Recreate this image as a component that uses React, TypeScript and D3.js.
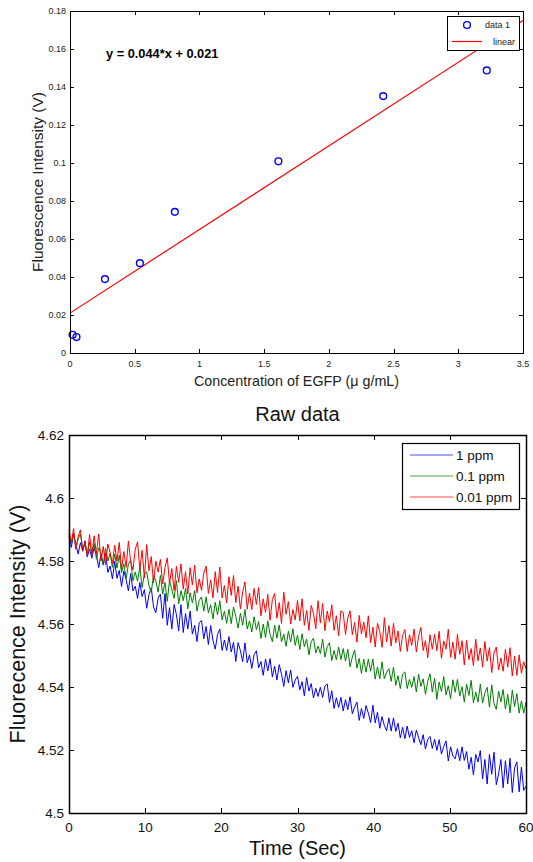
import React, { useEffect, useRef } from 'react';
import * as d3 from 'd3';

const FONT = '"Liberation Sans", Arial, Helvetica, sans-serif';

// ---- top panel: calibration curve ----
const concentration = [0.02, 0.05, 0.27, 0.54, 0.81, 1.61, 2.42, 3.22];
const intensity = [0.0096, 0.0084, 0.0389, 0.0473, 0.0743, 0.1009, 0.1352, 0.1487];
const fitSlope = 0.044;
const fitIntercept = 0.021;
const fitRange = [0, 3.5];
const calXTicks = [0, 0.5, 1, 1.5, 2, 2.5, 3, 3.5];
const calXLabels = ['0', '0.5', '1', '1.5', '2', '2.5', '3', '3.5'];
const calYTicks = [0, 0.02, 0.04, 0.06, 0.08, 0.1, 0.12, 0.14, 0.16, 0.18];
const calYLabels = ['0', '0.02', '0.04', '0.06', '0.08', '0.1', '0.12', '0.14', '0.16', '0.18'];

// ---- bottom panel: raw traces, one sample every 0.3 s ----
const sampleStep = 0.3;
const raw1ppm = [
  4.5879, 4.5843, 4.5885, 4.5854, 4.5822, 4.5858, 4.5831, 4.5864, 4.5813, 4.5838,
  4.5809, 4.5843, 4.5820, 4.5779, 4.5822, 4.5787, 4.5824, 4.5764, 4.5784, 4.5743,
  4.5799, 4.5745, 4.5770, 4.5719, 4.5768, 4.5741, 4.5705, 4.5760, 4.5705, 4.5720,
  4.5681, 4.5732, 4.5687, 4.5709, 4.5650, 4.5693, 4.5715, 4.5654, 4.5636, 4.5682,
  4.5695, 4.5618, 4.5697, 4.5596, 4.5652, 4.5584, 4.5662, 4.5630, 4.5578, 4.5661,
  4.5573, 4.5633, 4.5584, 4.5641, 4.5568, 4.5596, 4.5544, 4.5604, 4.5611, 4.5553,
  4.5592, 4.5535, 4.5595, 4.5548, 4.5520, 4.5567, 4.5584, 4.5516, 4.5549, 4.5516,
  4.5560, 4.5511, 4.5542, 4.5481, 4.5541, 4.5516, 4.5480, 4.5540, 4.5477, 4.5502,
  4.5459, 4.5503, 4.5515, 4.5461, 4.5481, 4.5437, 4.5489, 4.5451, 4.5490, 4.5432,
  4.5466, 4.5422, 4.5471, 4.5441, 4.5402, 4.5452, 4.5413, 4.5454, 4.5399, 4.5422,
  4.5434, 4.5391, 4.5417, 4.5372, 4.5430, 4.5387, 4.5411, 4.5365, 4.5396, 4.5370,
  4.5399, 4.5367, 4.5403, 4.5410, 4.5351, 4.5388, 4.5332, 4.5366, 4.5335, 4.5367,
  4.5324, 4.5360, 4.5328, 4.5369, 4.5315, 4.5336, 4.5352, 4.5294, 4.5332, 4.5300,
  4.5341, 4.5317, 4.5287, 4.5342, 4.5286, 4.5320, 4.5269, 4.5306, 4.5278, 4.5261,
  4.5302, 4.5260, 4.5302, 4.5259, 4.5285, 4.5238, 4.5272, 4.5236, 4.5276, 4.5240,
  4.5261, 4.5223, 4.5263, 4.5239, 4.5217, 4.5249, 4.5203, 4.5234, 4.5243, 4.5205,
  4.5234, 4.5199, 4.5233, 4.5187, 4.5211, 4.5229, 4.5165, 4.5210, 4.5181, 4.5172,
  4.5204, 4.5166, 4.5210, 4.5167, 4.5195, 4.5139, 4.5177, 4.5121, 4.5186, 4.5162,
  4.5198, 4.5108, 4.5170, 4.5092, 4.5186, 4.5123, 4.5193, 4.5090, 4.5124, 4.5170,
  4.5080, 4.5166, 4.5092, 4.5174, 4.5065, 4.5143, 4.5162, 4.5067, 4.5146, 4.5072,
  4.5085,
];
const raw01ppm = [
  4.5886, 4.5857, 4.5888, 4.5841, 4.5870, 4.5886, 4.5835, 4.5854, 4.5821, 4.5860,
  4.5825, 4.5856, 4.5806, 4.5842, 4.5825, 4.5789, 4.5840, 4.5800, 4.5825, 4.5780,
  4.5822, 4.5778, 4.5818, 4.5763, 4.5791, 4.5744, 4.5791, 4.5803, 4.5737, 4.5765,
  4.5736, 4.5781, 4.5716, 4.5758, 4.5766, 4.5722, 4.5700, 4.5754, 4.5737, 4.5701,
  4.5754, 4.5695, 4.5732, 4.5672, 4.5738, 4.5709, 4.5681, 4.5738, 4.5664, 4.5706,
  4.5674, 4.5713, 4.5648, 4.5699, 4.5667, 4.5706, 4.5641, 4.5675, 4.5686, 4.5641,
  4.5686, 4.5635, 4.5661, 4.5616, 4.5669, 4.5629, 4.5674, 4.5613, 4.5640, 4.5602,
  4.5647, 4.5601, 4.5654, 4.5624, 4.5587, 4.5634, 4.5596, 4.5646, 4.5584, 4.5610,
  4.5575, 4.5623, 4.5582, 4.5608, 4.5554, 4.5600, 4.5557, 4.5610, 4.5567, 4.5544,
  4.5596, 4.5555, 4.5597, 4.5544, 4.5568, 4.5529, 4.5577, 4.5543, 4.5585, 4.5532,
  4.5564, 4.5519, 4.5569, 4.5528, 4.5552, 4.5502, 4.5544, 4.5555, 4.5508, 4.5530,
  4.5506, 4.5552, 4.5495, 4.5528, 4.5541, 4.5484, 4.5516, 4.5486, 4.5527, 4.5487,
  4.5522, 4.5482, 4.5520, 4.5464, 4.5495, 4.5517, 4.5460, 4.5491, 4.5443, 4.5488,
  4.5447, 4.5489, 4.5450, 4.5489, 4.5425, 4.5464, 4.5426, 4.5480, 4.5426, 4.5447,
  4.5458, 4.5418, 4.5463, 4.5405, 4.5436, 4.5395, 4.5441, 4.5448, 4.5395, 4.5424,
  4.5399, 4.5433, 4.5384, 4.5441, 4.5402, 4.5426, 4.5377, 4.5418, 4.5442, 4.5384,
  4.5428, 4.5361, 4.5416, 4.5386, 4.5433, 4.5375, 4.5404, 4.5363, 4.5423, 4.5383,
  4.5424, 4.5371, 4.5401, 4.5352, 4.5409, 4.5373, 4.5421, 4.5350, 4.5384, 4.5352,
  4.5409, 4.5349, 4.5381, 4.5399, 4.5336, 4.5407, 4.5347, 4.5329, 4.5387, 4.5353,
  4.5392, 4.5330, 4.5377, 4.5318, 4.5390, 4.5338, 4.5379, 4.5317, 4.5356, 4.5317,
  4.5352,
];
const raw001ppm = [
  4.5900, 4.5857, 4.5903, 4.5837, 4.5878, 4.5899, 4.5833, 4.5861, 4.5815, 4.5884,
  4.5818, 4.5880, 4.5824, 4.5886, 4.5800, 4.5846, 4.5788, 4.5854, 4.5826, 4.5791,
  4.5850, 4.5800, 4.5859, 4.5773, 4.5830, 4.5780, 4.5863, 4.5797, 4.5772, 4.5837,
  4.5861, 4.5773, 4.5834, 4.5746, 4.5852, 4.5769, 4.5814, 4.5731, 4.5800, 4.5765,
  4.5805, 4.5727, 4.5778, 4.5810, 4.5730, 4.5776, 4.5706, 4.5783, 4.5732, 4.5791,
  4.5711, 4.5766, 4.5695, 4.5779, 4.5724, 4.5787, 4.5699, 4.5743, 4.5707, 4.5762,
  4.5784, 4.5697, 4.5740, 4.5683, 4.5766, 4.5700, 4.5781, 4.5683, 4.5722, 4.5667,
  4.5750, 4.5691, 4.5754, 4.5668, 4.5720, 4.5648, 4.5702, 4.5734, 4.5647, 4.5698,
  4.5646, 4.5713, 4.5662, 4.5716, 4.5626, 4.5680, 4.5637, 4.5694, 4.5612, 4.5678,
  4.5697, 4.5618, 4.5668, 4.5602, 4.5701, 4.5631, 4.5671, 4.5600, 4.5646, 4.5613,
  4.5675, 4.5610, 4.5680, 4.5596, 4.5643, 4.5580, 4.5659, 4.5634, 4.5585, 4.5674,
  4.5603, 4.5665, 4.5579, 4.5641, 4.5607, 4.5661, 4.5580, 4.5626, 4.5563, 4.5642,
  4.5637, 4.5567, 4.5619, 4.5642, 4.5566, 4.5605, 4.5542, 4.5627, 4.5569, 4.5606,
  4.5556, 4.5626, 4.5541, 4.5590, 4.5527, 4.5602, 4.5576, 4.5526, 4.5620, 4.5543,
  4.5595, 4.5530, 4.5602, 4.5540, 4.5578, 4.5513, 4.5564, 4.5582, 4.5513, 4.5566,
  4.5532, 4.5584, 4.5511, 4.5561, 4.5589, 4.5516, 4.5547, 4.5493, 4.5566, 4.5520,
  4.5567, 4.5515, 4.5577, 4.5491, 4.5546, 4.5520, 4.5583, 4.5494, 4.5543, 4.5488,
  4.5567, 4.5504, 4.5547, 4.5470, 4.5548, 4.5487, 4.5522, 4.5467, 4.5552, 4.5483,
  4.5524, 4.5463, 4.5544, 4.5482, 4.5525, 4.5446, 4.5508, 4.5527, 4.5454, 4.5492,
  4.5450, 4.5520, 4.5463, 4.5525, 4.5435, 4.5498, 4.5437, 4.5502, 4.5444, 4.5480,
  4.5458,
];
const seriesNames = ['1 ppm', '0.1 ppm', '0.01 ppm'];
const seriesColors = ['#0000ff', '#008000', '#ff0000'];
const seriesValues = [raw1ppm, raw01ppm, raw001ppm];
const rawXTicks = [0, 10, 20, 30, 40, 50, 60];
const rawYTicks = [4.5, 4.52, 4.54, 4.56, 4.58, 4.6, 4.62];
const rawYLabels = ['4.5', '4.52', '4.54', '4.56', '4.58', '4.6', '4.62'];

const App = () => {
  const svgRef = useRef<SVGSVGElement>(null);

  useEffect(() => {
    const svg = d3.select(svgRef.current);
    svg.selectAll('*').remove();
    svg.style('font-family', FONT);

    // ================= top chart =================
    const L = 70, R = 523, T = 11, B = 353;
    const x = d3.scaleLinear().domain([0, 3.5]).range([L, R]);
    const y = d3.scaleLinear().domain([0, 0.18]).range([B, T]);
    const top = svg.append('g');

    top.append('rect')
      .attr('x', L).attr('y', T).attr('width', R - L).attr('height', B - T)
      .attr('fill', '#fff');

    top.append('defs').append('clipPath').attr('id', 'calclip')
      .append('rect').attr('x', L).attr('y', T).attr('width', R - L).attr('height', B - T);

    // fitted line
    top.append('line')
      .attr('clip-path', 'url(#calclip)')
      .attr('x1', x(fitRange[0])).attr('y1', y(fitSlope * fitRange[0] + fitIntercept))
      .attr('x2', x(fitRange[1])).attr('y2', y(fitSlope * fitRange[1] + fitIntercept))
      .attr('stroke', '#ff0000').attr('stroke-width', 1.2);

    // data points
    top.selectAll('circle.pt')
      .data(concentration)
      .enter()
      .append('circle')
      .attr('class', 'pt')
      .attr('cx', d => x(d))
      .attr('cy', (d, i) => y(intensity[i]))
      .attr('r', 3.4)
      .attr('fill', 'none')
      .attr('stroke', '#0000ff')
      .attr('stroke-width', 1.4);

    // frame + ticks
    top.append('rect')
      .attr('x', L + 0.5).attr('y', T + 0.5).attr('width', R - L).attr('height', B - T)
      .attr('fill', 'none').attr('stroke', '#000').attr('stroke-width', 1);

    calXTicks.forEach((t, i) => {
      const px = Math.round(x(t)) + 0.5;
      top.append('line').attr('x1', px).attr('x2', px).attr('y1', B).attr('y2', B - 4).attr('stroke', '#000');
      top.append('line').attr('x1', px).attr('x2', px).attr('y1', T).attr('y2', T + 4).attr('stroke', '#000');
      top.append('text').attr('x', x(t)).attr('y', B + 14)
        .attr('text-anchor', 'middle').attr('font-size', 9).attr('fill', '#222')
        .text(calXLabels[i]);
    });
    calYTicks.forEach((t, i) => {
      const py = Math.round(y(t)) + 0.5;
      top.append('line').attr('x1', L).attr('x2', L + 4).attr('y1', py).attr('y2', py).attr('stroke', '#000');
      top.append('line').attr('x1', R).attr('x2', R - 4).attr('y1', py).attr('y2', py).attr('stroke', '#000');
      top.append('text').attr('x', L - 4).attr('y', y(t) + 3.2)
        .attr('text-anchor', 'end').attr('font-size', 9).attr('fill', '#222')
        .text(calYLabels[i]);
    });

    top.append('text')
      .attr('x', 106).attr('y', 58)
      .attr('font-size', 12.8).attr('font-weight', 'bold')
      .text(`y = ${fitSlope}*x + ${fitIntercept}`);

    top.append('text')
      .attr('x', (L + R) / 2).attr('y', 386)
      .attr('text-anchor', 'middle').attr('font-size', 14.3).attr('fill', '#222')
      .text('Concentration of EGFP (\u03bc g/mL)');

    top.append('text')
      .attr('transform', `translate(43,${(T + B) / 2}) rotate(-90)`)
      .attr('text-anchor', 'middle').attr('font-size', 15.5).attr('fill', '#222')
      .text('Fluorescence Intensity (V)');

    // legend
    const lg = top.append('g');
    lg.append('rect').attr('x', 447.5).attr('y', 16.5).attr('width', 72).attr('height', 34)
      .attr('fill', '#fff').attr('stroke', '#000');
    lg.append('circle').attr('cx', 467).attr('cy', 25).attr('r', 3.4)
      .attr('fill', 'none').attr('stroke', '#0000ff').attr('stroke-width', 1.4);
    lg.append('text').attr('x', 485).attr('y', 28.3).attr('font-size', 9).attr('fill', '#222').text('data 1');
    lg.append('line').attr('x1', 452).attr('x2', 482).attr('y1', 41.5).attr('y2', 41.5)
      .attr('stroke', '#ff0000').attr('stroke-width', 1.2);
    lg.append('text').attr('x', 515).attr('y', 44.8).attr('text-anchor', 'end')
      .attr('font-size', 9).attr('fill', '#222').text('linear');

    // ================= bottom chart =================
    const L2 = 69, R2 = 526, T2 = 435, B2 = 813;
    const x2 = d3.scaleLinear().domain([0, 60]).range([L2, R2]);
    const y2 = d3.scaleLinear().domain([4.5, 4.62]).range([B2, T2]);
    const bot = svg.append('g');

    bot.append('text')
      .attr('x', (L2 + R2) / 2).attr('y', 421)
      .attr('text-anchor', 'middle').attr('font-size', 20).attr('fill', '#111')
      .text('Raw data');

    const line = d3.line<number>()
      .x((d, i) => x2(i * sampleStep))
      .y(d => y2(d));

    seriesValues.forEach((vals, k) => {
      bot.append('path')
        .datum(vals)
        .attr('d', line)
        .attr('fill', 'none')
        .attr('stroke', seriesColors[k])
        .attr('stroke-width', 1)
        .attr('stroke-linejoin', 'round');
    });

    bot.append('rect')
      .attr('x', L2 + 0.5).attr('y', T2 + 0.5).attr('width', R2 - L2).attr('height', B2 - T2)
      .attr('fill', 'none').attr('stroke', '#000').attr('stroke-width', 1.5);

    rawXTicks.forEach(t => {
      const px = Math.round(x2(t)) + 0.5;
      bot.append('line').attr('x1', px).attr('x2', px).attr('y1', B2).attr('y2', B2 - 5).attr('stroke', '#000');
      bot.append('line').attr('x1', px).attr('x2', px).attr('y1', T2).attr('y2', T2 + 5).attr('stroke', '#000');
      bot.append('text').attr('x', x2(t)).attr('y', 832)
        .attr('text-anchor', 'middle').attr('font-size', 13.5).attr('fill', '#111')
        .text(String(t));
    });
    rawYTicks.forEach((t, i) => {
      const py = Math.round(y2(t)) + 0.5;
      bot.append('line').attr('x1', L2).attr('x2', L2 + 5).attr('y1', py).attr('y2', py).attr('stroke', '#000');
      bot.append('line').attr('x1', R2).attr('x2', R2 - 5).attr('y1', py).attr('y2', py).attr('stroke', '#000');
      bot.append('text').attr('x', L2 - 5).attr('y', y2(t) + 4.8)
        .attr('text-anchor', 'end').attr('font-size', 13.5).attr('fill', '#111')
        .text(rawYLabels[i]);
    });

    bot.append('text')
      .attr('x', (L2 + R2) / 2).attr('y', 855)
      .attr('text-anchor', 'middle').attr('font-size', 20).attr('fill', '#111')
      .text('Time (Sec)');

    bot.append('text')
      .attr('transform', `translate(25,624) rotate(-90)`)
      .attr('text-anchor', 'middle').attr('font-size', 21.5).attr('fill', '#111')
      .text('Fluorecence Intensity (V)');

    // legend
    const lg2 = bot.append('g');
    lg2.append('rect').attr('x', 402.5).attr('y', 443.5).attr('width', 117).attr('height', 66)
      .attr('fill', '#fff').attr('stroke', '#000').attr('stroke-width', 1.2);
    seriesNames.forEach((name, k) => {
      const ly = 455 + k * 21;
      lg2.append('line').attr('x1', 410).attr('x2', 453).attr('y1', ly).attr('y2', ly)
        .attr('stroke', seriesColors[k]).attr('stroke-width', 1).attr('stroke-opacity', 0.7);
      lg2.append('text').attr('x', 456).attr('y', ly + 4.8)
        .attr('font-size', 13.5).attr('fill', '#111').text(name);
    });
  }, []);

  return (
    <svg
      ref={svgRef}
      width={533}
      height={862}
      style={{ position: 'absolute', left: 0, top: 0, background: '#fff' }}
    />
  );
};

export default App;
